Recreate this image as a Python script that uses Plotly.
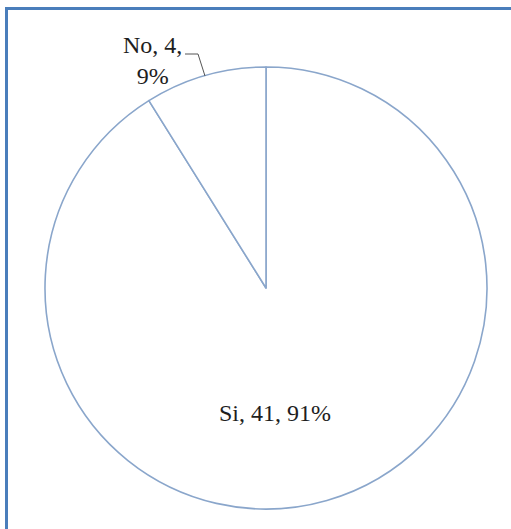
import plotly.graph_objects as go

labels = ["Si", "No"]
values = [41, 4]

W, H = 511, 529
L, R, T, B = 45, 24, 67, 20
pw, ph = W - L - R, H - T - B

def px_x(x):
    return (x - L) / pw

def px_y(y):
    return (H - B - y) / ph

total = sum(values)
pcts = [round(v / total * 100) for v in values]

fig = go.Figure(go.Pie(
    labels=labels, values=values, sort=False, direction="clockwise", rotation=0,
    marker=dict(colors=["white", "white"], line=dict(color="#8aa6cb", width=1.6)),
    textinfo="none", hoverinfo="label+value+percent", showlegend=False,
    domain=dict(x=[0, 1], y=[0, 1]),
))

font = dict(family="Liberation Serif, Times New Roman, serif", size=24, color="#1e1e1e")
annotations = [
    dict(x=px_x(275), y=px_y(413), xref="paper", yref="paper",
         text=f"{labels[0]}, {values[0]}, {pcts[0]}%", showarrow=False, font=font,
         xanchor="center", yanchor="middle"),
    dict(x=px_x(152), y=px_y(60), xref="paper", yref="paper",
         text=f"{labels[1]}, {values[1]},<br>{pcts[1]}%", showarrow=False, font=font,
         xanchor="center", yanchor="middle", align="center"),
]

shapes = [
    # leader line
    dict(type="path", xref="paper", yref="paper",
         path=f"M {px_x(185)} {px_y(54)} L {px_x(198)} {px_y(54)} L {px_x(205)} {px_y(76)}",
         line=dict(color="#555555", width=1)),
    # frame (left and top visible)
    dict(type="path", xref="paper", yref="paper",
         path=f"M {px_x(6.5)} {px_y(540)} L {px_x(6.5)} {px_y(8.5)} L {px_x(520)} {px_y(8.5)}",
         line=dict(color="#4a7ebb", width=3)),
]

fig.update_layout(
    width=W, height=H, margin=dict(l=L, r=R, t=T, b=B, autoexpand=False),
    paper_bgcolor="white", plot_bgcolor="white",
    annotations=annotations, shapes=shapes,
)

fig.write_html("out.html")
